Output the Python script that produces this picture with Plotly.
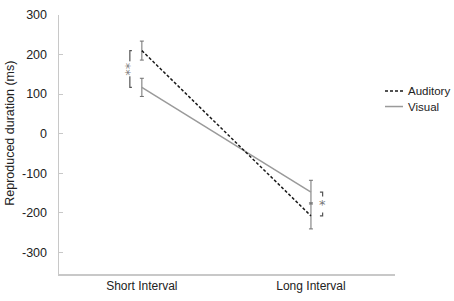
import plotly.graph_objects as go

conditions = ["Short Interval", "Long Interval"]
auditory = [210, -208]
auditory_err = [24, 33]
visual = [117, -148]
visual_err = [23, 30]
y_ticks = [300, 200, 100, 0, -100, -200, -300]
sig_labels = ["**", "*"]

xpos = [0, 1]

fig = go.Figure()
fig.add_trace(go.Scatter(
    x=xpos, y=visual, mode="lines",
    line=dict(color="#9a9a9a", width=1.5),
    error_y=dict(type="data", array=visual_err, color="#707070", thickness=1, width=2),
    showlegend=False, hoverinfo="skip"))
fig.add_trace(go.Scatter(
    x=xpos, y=auditory, mode="lines",
    line=dict(color="#1a1a1a", width=1.5, dash="3px,2px"),
    error_y=dict(type="data", array=auditory_err, color="#707070", thickness=1, width=2),
    showlegend=False, hoverinfo="skip"))

shapes = []
annos = []
# significance brackets
br = [(-0.071, 0.012), (1.069, -0.016)]
for i, (bx, tick) in enumerate(br):
    y1, y2 = auditory[i], visual[i]
    shapes.append(dict(type="path", xref="x", yref="y",
                       path=f"M {bx+tick},{y1} L {bx},{y1} L {bx},{y2} L {bx+tick},{y2}",
                       line=dict(color="#555555", width=1.2)))
    annos.append(dict(x=bx, y=(y1 + y2) / 2, xref="x", yref="y", text=sig_labels[i],
                      showarrow=False, textangle=-90 if i == 0 else 0,
                      bgcolor="white", borderpad=0,
                      font=dict(size=13, color="#777777", family="DejaVu Sans")))

# y-axis title
annos.append(dict(x=-49 / 336, y=1 - (130 - 8) / 266, xref="paper", yref="paper",
                  text="Reproduced duration (ms)", textangle=-90, showarrow=False,
                  xanchor="center", yanchor="middle",
                  font=dict(size=12.5, color="#222222", family="Liberation Sans")))

# manual legend
leg = [("Auditory", "#1a1a1a"), ("Visual", "#9a9a9a")]
for j, (name, col) in enumerate(leg):
    ypix = 86 + 16 * j
    yp = 1 - (ypix - 8) / 266
    shapes.append(dict(type="line", xref="paper", yref="paper",
                       x0=(385 - 59) / 336, x1=(403 - 59) / 336, y0=yp, y1=yp,
                       line=dict(color=col, width=1.5, dash="3px,2px" if j == 0 else "solid")))
    annos.append(dict(x=(406 - 59) / 336, y=yp, xref="paper", yref="paper", text=name,
                      showarrow=False, xanchor="left", yanchor="middle",
                      font=dict(size=11.5, color="#222222", family="Liberation Sans")))

fig.update_layout(
    width=454, height=301,
    margin=dict(l=59, r=59, t=8, b=27),
    plot_bgcolor="white", paper_bgcolor="white",
    shapes=shapes, annotations=annos,
    xaxis=dict(range=[-0.49, 1.497], tickvals=xpos, ticktext=conditions,
               showline=True, linecolor="#c8c8c8", linewidth=1.5,
               showgrid=False, zeroline=False, ticks="",
               tickfont=dict(size=12, color="#222222", family="Liberation Sans")),
    yaxis=dict(range=[-355, 300], tickvals=y_ticks,
               ticktext=[str(v) for v in y_ticks],
               showline=True, linecolor="#c8c8c8", linewidth=1.5,
               showgrid=False, zeroline=False, ticks="inside", ticklen=4, tickcolor="#c8c8c8",
               ticklabelstandoff=8,
               tickfont=dict(size=12.5, color="#222222", family="Liberation Sans")),
)

fig.write_html("out.html", config={"displayModeBar": False, "staticPlot": True},
               post_script="document.body.style.margin='0';document.body.style.overflow='hidden';")
